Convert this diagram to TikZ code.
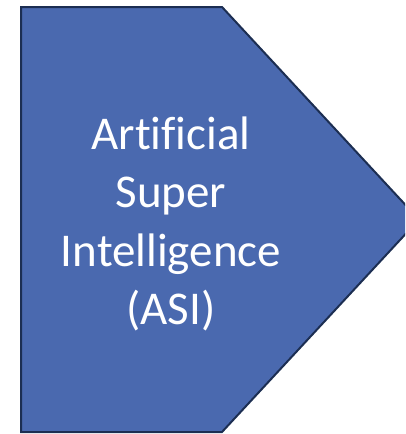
\documentclass[tikz,border=0pt]{standalone}
\usepackage{fontspec}
\setmainfont{Carlito}[Ligatures=NoCommon]
\definecolor{asifill}{HTML}{4A69AF}
\definecolor{asiline}{HTML}{1C2E52}
\begin{document}
\begin{tikzpicture}[x=1pt,y=-1pt,
  asishape/.style={fill=asifill,draw=asiline,line width=2pt,line join=miter},
  asitext/.style={text=white,font=\fontsize{47}{59}\selectfont,anchor=base,inner sep=0pt}]
\useasboundingbox (0,0) rectangle (405,434);
\clip (0,0) rectangle (405,434);
\draw[asishape] (21,7) -- (222,7) -- (419,219.5) -- (222,432) -- (21,432) -- cycle;
\node[asitext] (l1) at (171,149) {Artificial};
\node[asitext] (l2) at (171,207.5) {Super};
\node[asitext] (l3) at (171,266) {Intelligence};
\node[asitext] (l4) at (171,324.5) {(ASI)};
\end{tikzpicture}
\end{document}
